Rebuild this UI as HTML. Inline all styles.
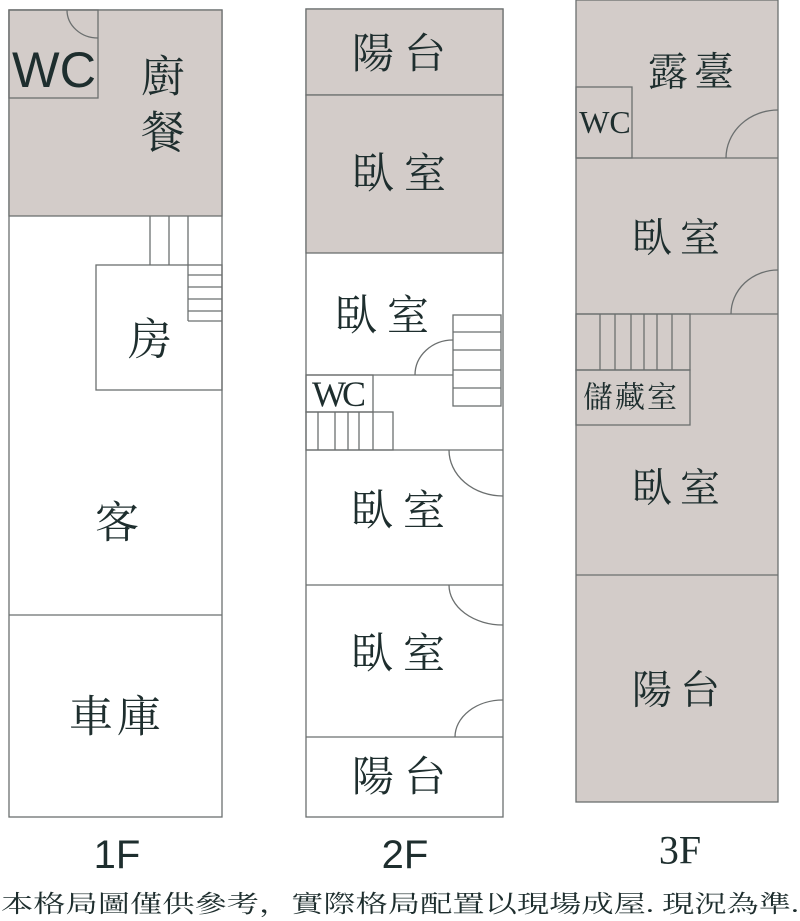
<!DOCTYPE html>
<html><head><meta charset="utf-8"><style>
html,body{margin:0;padding:0;background:#fff;}
svg{display:block}
.t{font-family:"Liberation Serif","Noto Serif CJK SC",serif;fill:#1e2e2e;text-anchor:middle;dominant-baseline:central}
.s{font-family:"Liberation Sans","Noto Sans CJK TC",sans-serif;fill:#1e2e2e;text-anchor:middle;dominant-baseline:central}
</style></head><body>
<svg width="800" height="921" viewBox="0 0 800 921" xmlns="http://www.w3.org/2000/svg">
<g stroke="#6b6f6f" stroke-width="1.3" fill="none">
<rect x="9" y="10" width="213" height="807" fill="#fff"/>
<rect x="9" y="10" width="213" height="206" fill="#d3ccc9"/>
<rect x="9" y="10" width="89" height="88"/>
<path d="M67 10 A31 28 0 0 0 98 38"/>
<line x1="150" y1="216" x2="150" y2="265"/><line x1="169" y1="216" x2="169" y2="265"/><line x1="188" y1="216" x2="188" y2="321"/>
<rect x="96" y="265" width="126" height="125"/>
<line x1="188" y1="275" x2="222" y2="275"/><line x1="188" y1="287" x2="222" y2="287"/><line x1="188" y1="299" x2="222" y2="299"/><line x1="188" y1="311" x2="222" y2="311"/><line x1="188" y1="321" x2="222" y2="321"/>
<line x1="9" y1="615" x2="222" y2="615"/>
<rect x="306" y="9" width="197" height="808" fill="#fff"/>
<rect x="306" y="9" width="197" height="86" fill="#d3ccc9"/>
<rect x="306" y="95" width="197" height="158" fill="#d3ccc9"/>
<line x1="306" y1="375" x2="453" y2="375"/>
<rect x="453" y="315" width="48" height="91"/>
<line x1="453" y1="332" x2="501" y2="332"/><line x1="453" y1="350" x2="501" y2="350"/><line x1="453" y1="370" x2="501" y2="370"/><line x1="453" y1="388" x2="501" y2="388"/>
<path d="M415 375 A38 35 0 0 1 453 340"/>
<rect x="306" y="375" width="67" height="37"/>
<rect x="306" y="412" width="87" height="38"/>
<line x1="318" y1="412" x2="318" y2="450"/><line x1="335" y1="412" x2="335" y2="450"/><line x1="348" y1="412" x2="348" y2="450"/><line x1="359" y1="412" x2="359" y2="450"/><line x1="373" y1="412" x2="373" y2="450"/>
<line x1="306" y1="450" x2="503" y2="450"/>
<path d="M449 450 A54 46 0 0 0 503 496"/>
<line x1="306" y1="585" x2="503" y2="585"/>
<path d="M449 585 A54 40 0 0 0 503 625"/>
<line x1="306" y1="737" x2="503" y2="737"/>
<path d="M455 737 A48 37 0 0 1 503 700"/>
<rect x="576" y="0" width="202" height="802" fill="#d3ccc9"/>
<rect x="576" y="87" width="56" height="71"/>
<line x1="576" y1="158" x2="778" y2="158"/>
<path d="M726 158 A52 48 0 0 1 778 110"/>
<line x1="576" y1="314" x2="778" y2="314"/>
<path d="M731 314 A47 44 0 0 1 778 270"/>
<rect x="576" y="314" width="114" height="56"/>
<line x1="600" y1="314" x2="600" y2="370"/><line x1="615" y1="314" x2="615" y2="370"/><line x1="631" y1="314" x2="631" y2="370"/><line x1="644" y1="314" x2="644" y2="370"/><line x1="657" y1="314" x2="657" y2="370"/><line x1="672" y1="314" x2="672" y2="370"/>
<rect x="576" y="370" width="114" height="55"/>
<line x1="576" y1="575" x2="778" y2="575"/>
</g>
<text class="s" x="54" y="70" font-size="50" textLength="84" lengthAdjust="spacingAndGlyphs">WC</text>
<text class="t" x="163" y="77" font-size="44">廚</text>
<text class="t" x="163" y="133" font-size="44">餐</text>
<text class="t" x="150" y="340" font-size="44">房</text>
<text class="t" x="117" y="523" font-size="44">客</text>
<text class="t" x="117" y="717" font-size="44" letter-spacing="4">車庫</text>
<text class="s" x="117" y="855" font-size="40">1F</text>
<text class="t" x="404" y="55" font-size="42" letter-spacing="10">陽台</text>
<text class="t" x="404" y="175" font-size="42" letter-spacing="10">臥室</text>
<text class="t" x="387" y="317" font-size="42" letter-spacing="10">臥室</text>
<text class="t" x="340" y="394" font-size="36" letter-spacing="2" textLength="56">WC</text>
<text class="t" x="403" y="512" font-size="42" letter-spacing="10">臥室</text>
<text class="t" x="403" y="655" font-size="42" letter-spacing="10">臥室</text>
<text class="t" x="404" y="778" font-size="42" letter-spacing="10">陽台</text>
<text class="s" x="405" y="855" font-size="40">2F</text>
<text class="t" x="694" y="72" font-size="40" letter-spacing="6">露臺</text>
<text class="t" x="605" y="122" font-size="32">WC</text>
<text class="t" x="680" y="238" font-size="40" letter-spacing="8">臥室</text>
<text class="t" x="631" y="398" font-size="30" letter-spacing="2">儲藏室</text>
<text class="t" x="680" y="488" font-size="40" letter-spacing="8">臥室</text>
<text class="t" x="680" y="690" font-size="40" letter-spacing="8">陽台</text>
<text class="t" x="680" y="850" font-size="40">3F</text>
<text class="t" x="400" y="905" font-size="24" textLength="798" lengthAdjust="spacingAndGlyphs">本格局圖僅供參考，實際格局配置以現場成屋. 現況為準.</text>
</svg>
</body></html>
